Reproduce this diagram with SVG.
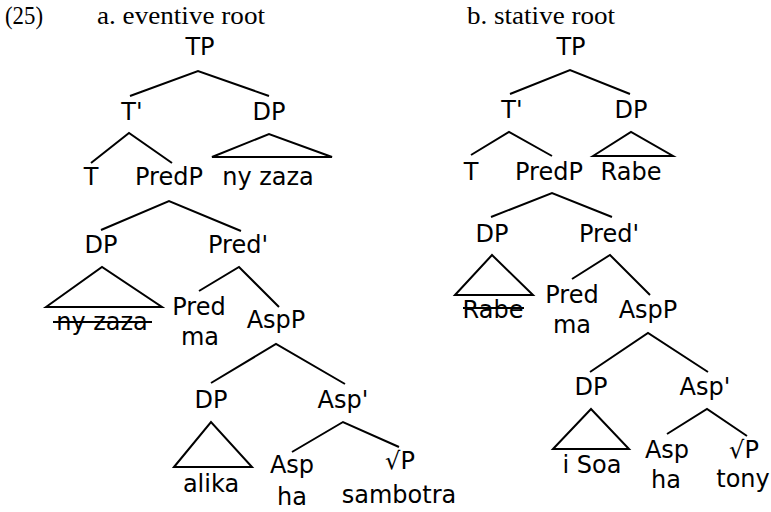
<svg xmlns="http://www.w3.org/2000/svg" width="771" height="512" viewBox="0 0 771 512">
  <style>
    .title { font-family: "Liberation Serif", "DejaVu Serif", serif; font-size: 25px; fill: #000; }
    .lbl { font-family: "DejaVu Sans", "Noto Sans", sans-serif; font-size: 24px; fill: #000; text-anchor: middle; }
    .edge { fill: none; stroke: #000; stroke-width: 2; stroke-linejoin: miter; }
    .strike { stroke: #000; stroke-width: 2; }
  </style>
  <rect width="771" height="512" fill="#fff"/>

  <!-- headings -->
  <g id="headings">
    <text class="title" x="5" y="24" textLength="38" lengthAdjust="spacingAndGlyphs">(25)</text>
    <text class="title" x="97" y="24" textLength="168" lengthAdjust="spacingAndGlyphs">a. eventive root</text>
    <text class="title" x="467" y="24" textLength="148" lengthAdjust="spacingAndGlyphs">b. stative root</text>
  </g>

  <!-- branches and roofs -->
  <g id="connectors">
    <!-- tree a -->
    <path class="edge" d="M130,96 L198,71 L269,96"/>
    <path class="edge" d="M91,163 L129,133 L172,163"/>
    <path class="edge" d="M212,157 L269,134 L332,157 Z"/>
    <path class="edge" d="M101,230 L169,201 L241,231"/>
    <path class="edge" d="M46,307 L102,267 L162,307 Z"/>
    <path class="edge" d="M199,291 L239,267 L279,307"/>
    <path class="edge" d="M211,383 L276,344 L345,384"/>
    <path class="edge" d="M174,467 L211,422 L252,467 Z"/>
    <path class="edge" d="M292,452 L343,422 L399,447"/>
    <!-- tree b -->
    <path class="edge" d="M510,94 L570,70 L630,94"/>
    <path class="edge" d="M471,155 L509,132 L552,156"/>
    <path class="edge" d="M593,156 L631,132 L673,156 Z"/>
    <path class="edge" d="M491,217 L552,193 L612,217"/>
    <path class="edge" d="M455,295 L492,255 L533,295 Z"/>
    <path class="edge" d="M572,279 L610,255 L650,295"/>
    <path class="edge" d="M590,372 L648,333 L708,372"/>
    <path class="edge" d="M553,449 L591,409 L629,449 Z"/>
    <path class="edge" d="M667,434 L707,409 L747,436"/>
  </g>

  <!-- tree a nodes -->
  <g id="a-TP"><text class="lbl" x="200" y="55">TP</text></g>
  <g id="a-Tbar"><text class="lbl" x="132" y="120">T'</text></g>
  <g id="a-DP-subj"><text class="lbl" x="269" y="120">DP</text></g>
  <g id="a-T"><text class="lbl" x="91" y="185">T</text></g>
  <g id="a-PredP"><text class="lbl" x="169" y="185">PredP</text></g>
  <g id="a-subj"><text class="lbl" x="268" y="185">ny zaza</text></g>
  <g id="a-DP-spec"><text class="lbl" x="101" y="253">DP</text></g>
  <g id="a-Predbar"><text class="lbl" x="238" y="253">Pred'</text></g>
  <g id="a-trace">
    <text class="lbl" x="102" y="330">ny zaza</text>
    <line class="strike" x1="53" y1="322" x2="152" y2="322"/>
  </g>
  <g id="a-Pred"><text class="lbl" x="199" y="315">Pred</text><text class="lbl" x="200" y="345">ma</text></g>
  <g id="a-AspP"><text class="lbl" x="276" y="328">AspP</text></g>
  <g id="a-DP-obj"><text class="lbl" x="211" y="408">DP</text></g>
  <g id="a-Aspbar"><text class="lbl" x="343" y="408">Asp'</text></g>
  <g id="a-obj"><text class="lbl" x="211" y="492">alika</text></g>
  <g id="a-Asp"><text class="lbl" x="292" y="473">Asp</text><text class="lbl" x="292" y="505">ha</text></g>
  <g id="a-RootP"><text class="lbl" x="400" y="469">√P</text><text class="lbl" x="399" y="503">sambotra</text></g>

  <!-- tree b nodes -->
  <g id="b-TP"><text class="lbl" x="571" y="55">TP</text></g>
  <g id="b-Tbar"><text class="lbl" x="512" y="118">T'</text></g>
  <g id="b-DP-subj"><text class="lbl" x="631" y="118">DP</text></g>
  <g id="b-T"><text class="lbl" x="471" y="180">T</text></g>
  <g id="b-PredP"><text class="lbl" x="549" y="180">PredP</text></g>
  <g id="b-subj"><text class="lbl" x="631" y="180">Rabe</text></g>
  <g id="b-DP-spec"><text class="lbl" x="492" y="242">DP</text></g>
  <g id="b-Predbar"><text class="lbl" x="609" y="242">Pred'</text></g>
  <g id="b-trace">
    <text class="lbl" x="493" y="318">Rabe</text>
    <line class="strike" x1="463" y1="308" x2="524" y2="308"/>
  </g>
  <g id="b-Pred"><text class="lbl" x="572" y="303">Pred</text><text class="lbl" x="572" y="333">ma</text></g>
  <g id="b-AspP"><text class="lbl" x="648" y="318">AspP</text></g>
  <g id="b-DP-obj"><text class="lbl" x="591" y="395">DP</text></g>
  <g id="b-Aspbar"><text class="lbl" x="705" y="395">Asp'</text></g>
  <g id="b-obj"><text class="lbl" x="592" y="473">i Soa</text></g>
  <g id="b-Asp"><text class="lbl" x="667" y="458">Asp</text><text class="lbl" x="666" y="488">ha</text></g>
  <g id="b-RootP"><text class="lbl" x="744" y="458">√P</text><text class="lbl" x="743" y="487">tony</text></g>
</svg>
